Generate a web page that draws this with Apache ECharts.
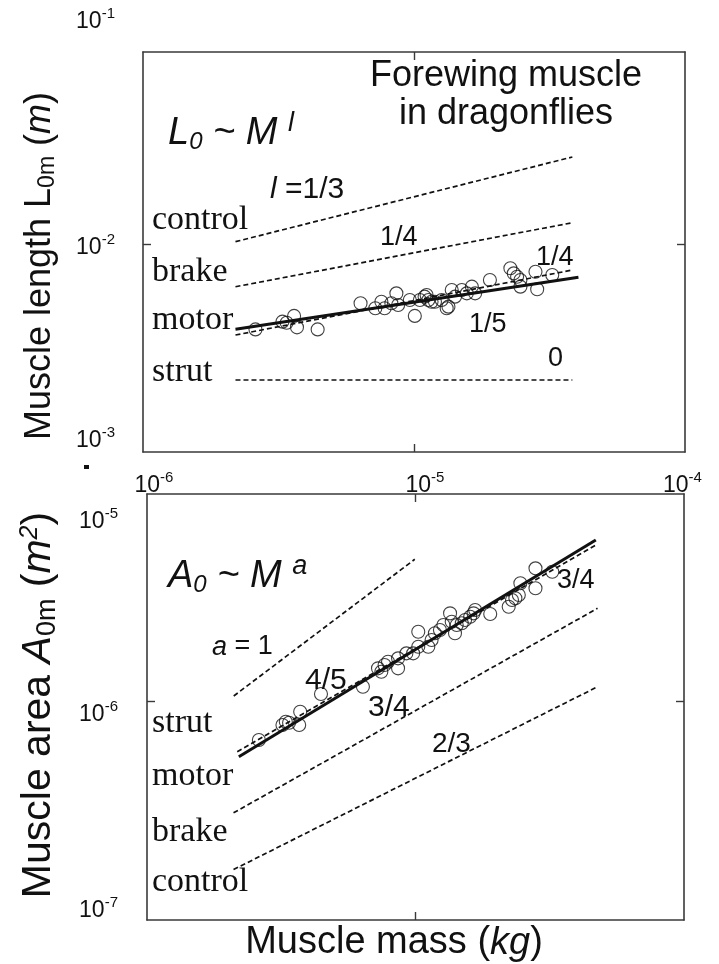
<!DOCTYPE html>
<html><head><meta charset="utf-8">
<script src="https://cdn.jsdelivr.net/npm/echarts@6/dist/echarts.min.js"></script>
<style>html,body{margin:0;padding:0;background:#fff}#c{width:719px;height:964px}</style>
</head><body><div id="c"></div>
<script>
// ---------- data ----------
const xTickExponents = [-6, -5, -4];
const topYExponents = [-3, -2, -1];
const bottomYExponents = [-7, -6, -5];

// top panel: muscle mass (kg) vs muscle length (m)
const topMass = [2.60e-6,3.27e-6,3.39e-6,3.61e-6,3.70e-6,4.41e-6,6.35e-6,7.20e-6,7.58e-6,7.79e-6,8.25e-6,8.61e-6,8.74e-6,9.65e-6,1.007e-5,1.051e-5,1.094e-5,1.113e-5,1.13e-5,1.161e-5,1.195e-5,1.265e-5,1.320e-5,1.34e-5,1.378e-5,1.417e-5,1.501e-5,1.566e-5,1.635e-5,1.681e-5,1.906e-5,2.268e-5,2.334e-5,2.401e-5,2.47e-5,2.47e-5,2.807e-5,2.848e-5,3.237e-5];
const topLength = [3.88e-3,4.23e-3,4.18e-3,4.51e-3,3.97e-3,3.88e-3,5.19e-3,4.91e-3,5.28e-3,4.91e-3,5.19e-3,5.80e-3,5.09e-3,5.39e-3,4.51e-3,5.39e-3,5.59e-3,5.69e-3,5.39e-3,5.28e-3,5.28e-3,5.39e-3,4.91e-3,5.00e-3,6.02e-3,5.59e-3,6.02e-3,5.80e-3,6.25e-3,5.80e-3,6.73e-3,7.67e-3,7.25e-3,6.98e-3,6.73e-3,6.25e-3,7.38e-3,6.07e-3,7.12e-3];

// top reference lines [mass, length] endpoints
const topControlLine = [[2.194e-6, 1.032e-2], [3.84e-5, 2.653e-2]];   // l = 1/3
const topBrakeLine   = [[2.194e-6, 6.245e-3], [3.84e-5, 1.275e-2]];   // 1/4
const topMotorLine   = [[2.194e-6, 3.645e-3], [3.84e-5, 7.52e-3]];    // 1/4
const topFitLine     = [[2.194e-6, 3.884e-3], [4.044e-5, 6.94e-3]];   // 1/5 (fit)
const topStrutLine   = [[2.194e-6, 2.207e-3], [3.84e-5, 2.207e-3]];   // 0

// bottom panel: muscle mass (kg) vs muscle area (m^2)
const bottomMass = [2.61e-6,3.195e-6,3.288e-6,3.382e-6,3.688e-6,3.72e-6,4.446e-6,6.37e-6,7.25e-6,7.46e-6,7.67e-6,7.90e-6,8.61e-6,8.61e-6,9.25e-6,9.80e-6,1.024e-5,1.024e-5,1.116e-5,1.148e-5,1.181e-5,1.233e-5,1.27e-5,1.345e-5,1.364e-5,1.403e-5,1.424e-5,1.487e-5,1.53e-5,1.598e-5,1.645e-5,1.668e-5,1.898e-5,2.224e-5,2.288e-5,2.355e-5,2.425e-5,2.458e-5,2.798e-5,2.798e-5,3.232e-5];
const bottomArea = [6.48e-7,7.675e-7,7.96e-7,7.87e-7,7.675e-7,8.915e-7,1.088e-6,1.181e-6,1.453e-6,1.398e-6,1.509e-6,1.565e-6,1.453e-6,1.626e-6,1.720e-6,1.720e-6,1.854e-6,2.194e-6,1.854e-6,1.998e-6,2.156e-6,2.237e-6,2.367e-6,2.699e-6,2.456e-6,2.156e-6,2.367e-6,2.412e-6,2.503e-6,2.598e-6,2.699e-6,2.801e-6,2.678e-6,2.908e-6,3.136e-6,3.197e-6,3.318e-6,3.784e-6,3.577e-6,4.479e-6,4.31e-6];

const bottomStrutLine   = [[2.104e-6, 1.064e-6], [9.94e-6, 4.96e-6]];   // a = 1
const bottomFitLine     = [[2.198e-6, 5.37e-7], [4.694e-5, 6.16e-6]];   // 4/5 (fit)
const bottomMotorLine   = [[2.168e-6, 5.68e-7], [4.694e-5, 5.825e-6]];  // 3/4
const bottomBrakeLine   = [[2.10e-6, 2.855e-7], [4.764e-5, 2.855e-6]];  // 3/4
const bottomControlLine = [[2.10e-6, 1.507e-7], [4.764e-5, 1.181e-6]];  // 2/3

// axis extents of the two framed panels (the frames run slightly past the decades)
const topYRange = [9.89e-4, 8.553e-2];
const bottomYRange = [8.544e-8, 1.0344e-5];

// ---------- styling ----------
const SANS = '"Liberation Sans", Arial, sans-serif';
const SERIF = '"Liberation Serif", "Times New Roman", serif';
const INK = '#111';
const AXC = '#3a3a3a';

function zip(a, b) { return a.map((v, i) => [v, b[i]]); }
function expOf(v) { const l = Math.log10(v); const e = Math.round(l); return Math.abs(l - e) < 0.01 ? e : null; }

function yLabel(exps, shifts, margin) {
  const rich = {};
  exps.forEach((e, i) => {
    const s = shifts[i];
    rich['m' + i] = { fontSize: 23, fontFamily: SANS, color: INK, padding: [Math.max(0, 2 * s), 0, Math.max(0, -2 * s), 0] };
    rich['s' + i] = { fontSize: 15, fontFamily: SANS, color: INK, padding: [Math.max(0, 2 * s - 16), 0, Math.max(0, 16 - 2 * s), 0] };
  });
  return {
    show: true, margin: margin, align: 'right',
    formatter: v => { const e = expOf(v); const i = exps.indexOf(e); return (e === null || i < 0) ? '' : `{m${i}|10}{s${i}|${e}}`; },
    rich: rich
  };
}
function xLabel(padLeft, padRight) {
  const rich = {};
  xTickExponents.forEach((e, i) => {
    rich['m' + i] = { fontSize: 23, fontFamily: SANS, color: INK, padding: [0, 0, 0, padLeft[i]] };
    rich['s' + i] = { fontSize: 15, fontFamily: SANS, color: INK, padding: [0, padRight[i], 16, 0] };
  });
  return {
    show: true, margin: 18, showMinLabel: true, showMaxLabel: true,
    formatter: v => { const e = expOf(v); const i = xTickExponents.indexOf(e); return (e === null || i < 0) ? '' : `{m${i}|10}{s${i}|${e}}`; },
    rich: rich
  };
}
const lineCommon = { show: true, lineStyle: { color: AXC, width: 1.6 } };
function tickAt(vals) { return { show: true, inside: true, length: 8, customValues: vals, lineStyle: { color: AXC, width: 1.4 } }; }

function xAx(grid, pos, label) {
  return { gridIndex: grid, type: 'log', logBase: 10, min: 1e-6, max: 1e-4, position: pos,
    axisLine: lineCommon, axisTick: tickAt([1e-5]), splitLine: { show: false }, minorTick: { show: false },
    axisLabel: label || { show: false } };
}
function yAx(grid, pos, range, tickVals) {
  return { gridIndex: grid, type: 'log', logBase: 10, min: range[0], max: range[1], position: pos,
    axisLine: lineCommon, axisTick: tickAt(tickVals), splitLine: { show: false }, minorTick: { show: false },
    axisLabel: { show: false } };
}
function labelYAx(grid, min, max, label) {
  return { gridIndex: grid, type: 'log', logBase: 10, min: min, max: max, position: 'left',
    axisLine: { show: false }, axisTick: { show: false }, splitLine: { show: false }, minorTick: { show: false },
    axisLabel: label };
}
function hiddenX(grid) { return { gridIndex: grid, type: 'value', show: false, min: 0, max: 1 }; }

function dashed(data, xi, yi) {
  return { type: 'line', data: data, xAxisIndex: xi, yAxisIndex: yi, symbol: 'none', silent: true,
    lineStyle: { color: INK, width: 1.7, type: [5, 3] }, z: 2 };
}
function solid(data, xi, yi) {
  return { type: 'line', data: data, xAxisIndex: xi, yAxisIndex: yi, symbol: 'none', silent: true,
    lineStyle: { color: INK, width: 3 }, z: 3 };
}
function scatter(data, xi, yi) {
  return { type: 'scatter', data: data, xAxisIndex: xi, yAxisIndex: yi, symbol: 'circle', symbolSize: 13,
    itemStyle: { color: 'rgba(0,0,0,0)', borderColor: INK, borderWidth: 1.1 }, z: 4 };
}
function txt(x, y, text, font, extra) {
  return Object.assign({ type: 'text', x: x, y: y, silent: true,
    style: Object.assign({ text: text, font: font, fill: INK, textAlign: 'left', textVerticalAlign: 'middle', align: 'left', verticalAlign: 'middle' }, extra || {}) });
}

const italicRich = {
  i: { fontSize: 38, fontStyle: 'italic', fontFamily: SANS, color: INK },
  sub: { fontSize: 24, fontStyle: 'italic', fontFamily: SANS, color: INK, padding: [18, 0, 0, 0] },
  sup: { fontSize: 27, fontStyle: 'italic', fontFamily: SANS, color: INK, padding: [0, 0, 20, 0] }
};
const numRich = {
  i: { fontSize: 30, fontStyle: 'italic', fontFamily: SANS, color: INK },
  n: { fontSize: 30, fontFamily: SANS, color: INK }
};
function titleRich(sz) {
  return {
    n: { fontSize: sz, fontFamily: SANS, color: INK },
    sub: { fontSize: Math.round(sz * 0.65), fontFamily: SANS, color: INK, padding: [Math.round(sz * 0.45), 0, 0, 0] },
    i: { fontSize: sz, fontStyle: 'italic', fontFamily: SANS, color: INK },
    sup: { fontSize: Math.round(sz * 0.62), fontStyle: 'italic', fontFamily: SANS, color: INK, padding: [0, 0, Math.round(sz * 0.45), 0] }
  };
}

const chart = echarts.init(document.getElementById('c'), null, { renderer: 'canvas' });
chart.setOption({
  animation: false,
  backgroundColor: '#fff',
  grid: [
    { left: 143, top: 52, width: 542, height: 400 },
    { left: 147, top: 494, width: 537, height: 426 },
    { left: 143, top: 22, width: 542, height: 419 },
    { left: 147, top: 522, width: 537, height: 389 }
  ],
  xAxis: [
    xAx(0, 'bottom', xLabel([22, 22, 0], [0, 0, 5])), xAx(0, 'top'), xAx(1, 'bottom'), xAx(1, 'top'),
    hiddenX(2), hiddenX(3)
  ],
  yAxis: [
    yAx(0, 'left', topYRange, [1e-2]), yAx(0, 'right', topYRange, [1e-2]),
    yAx(1, 'left', bottomYRange, [1e-6]), yAx(1, 'right', bottomYRange, [1e-6]),
    labelYAx(2, 1e-3, 1e-1, yLabel(topYExponents, [0, 16, 0], 28)),
    labelYAx(3, 1e-7, 1e-5, yLabel(bottomYExponents, [0, -2, 0], 29))
  ],
  series: [
    dashed(topControlLine, 0, 0), dashed(topBrakeLine, 0, 0), dashed(topMotorLine, 0, 0),
    solid(topFitLine, 0, 0), dashed(topStrutLine, 0, 0),
    scatter(zip(topMass, topLength), 0, 0),
    dashed(bottomStrutLine, 2, 2), dashed(bottomMotorLine, 2, 2), dashed(bottomBrakeLine, 2, 2),
    dashed(bottomControlLine, 2, 2), solid(bottomFitLine, 2, 2),
    scatter(zip(bottomMass, bottomArea), 2, 2)
  ],
  graphic: [
    txt(506, 95, 'Forewing muscle\nin dragonflies', '36px ' + SANS, { textAlign: 'center', align: 'center', lineHeight: 38 }),
    txt(168, 133, '{i|L}{sub|0}{i| ~ M }{sup|l}', '38px ' + SANS, { rich: italicRich }),
    txt(270, 190, '{i|l}{n| =1/3}', '30px ' + SANS, { rich: numRich }),
    txt(152, 220, 'control', '34px ' + SERIF),
    txt(380, 238, '1/4', '27px ' + SANS),
    txt(152, 272, 'brake', '34px ' + SERIF),
    txt(536, 258, '1/4', '27px ' + SANS),
    txt(152, 320, 'motor', '34px ' + SERIF),
    txt(469, 325, '1/5', '27px ' + SANS),
    txt(152, 372, 'strut', '34px ' + SERIF),
    txt(548, 359, '0', '27px ' + SANS),
    txt(168, 576, '{i|A}{sub|0}{i| ~ M }{sup|a}', '38px ' + SANS, { rich: italicRich }),
    txt(212, 647, '{i|a}{n| = 1}', '27px ' + SANS, { rich: { i: { fontSize: 27, fontStyle: 'italic', fontFamily: SANS, color: INK }, n: { fontSize: 27, fontFamily: SANS, color: INK } } }),
    txt(305, 681, '4/5', '30px ' + SANS),
    txt(368, 708, '3/4', '30px ' + SANS),
    txt(557, 581, '3/4', '27px ' + SANS),
    txt(432, 744, '2/3', '28px ' + SANS),
    txt(152, 723, 'strut', '34px ' + SERIF),
    txt(152, 776, 'motor', '34px ' + SERIF),
    txt(152, 832, 'brake', '34px ' + SERIF),
    txt(152, 882, 'control', '34px ' + SERIF),
    Object.assign(txt(40, 266, '{n|Muscle length L}{sub|0m}{n| (}{i|m}{n|)}', '36px ' + SANS, { rich: titleRich(36), textAlign: 'center', align: 'center' }), { rotation: Math.PI / 2 }),
    Object.assign(txt(39, 705, '{n|Muscle area }{i|A}{sub|0m}{n| (}{i|m}{sup|2}{n|)}', '41px ' + SANS, { rich: titleRich(41), textAlign: 'center', align: 'center' }), { rotation: Math.PI / 2 }),
    txt(394, 943, '{n|Muscle mass (}{i|kg}{n|)}', '38px ' + SANS, { rich: titleRich(38), textAlign: 'center', align: 'center' }),
    { type: 'rect', silent: true, shape: { x: 84, y: 465, width: 5, height: 4 }, style: { fill: INK } }
  ]
});
</script></body></html>
